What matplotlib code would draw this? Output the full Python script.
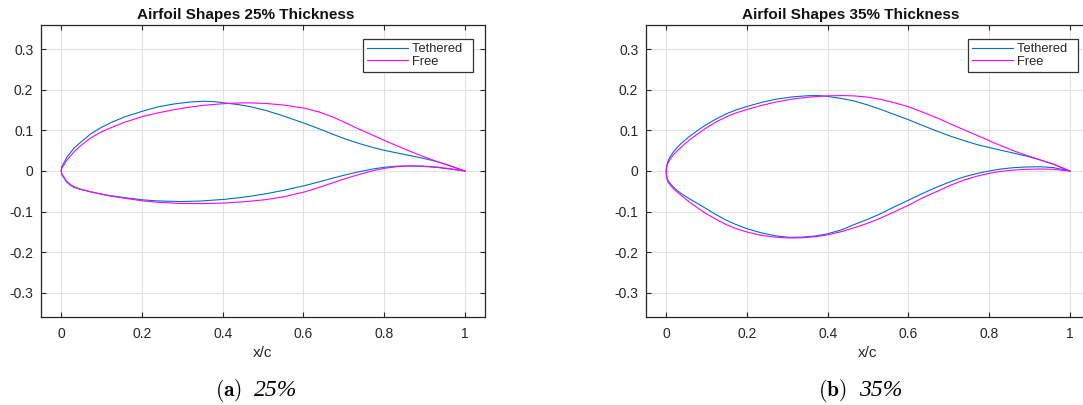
import matplotlib
matplotlib.use("Agg")
import matplotlib.pyplot as plt

plt.rcParams['font.family'] = ['Liberation Sans', 'DejaVu Sans']
plt.rcParams['mathtext.fontset'] = 'cm'

# ---- 25% thickness airfoil (x/c, y/c) ----
x25_teth_up = [0, 0.0017, 0.0073, 0.0139, 0.0238, 0.032, 0.0485, 0.0733, 0.098, 0.1228, 0.1558,
               0.2028, 0.2382, 0.2795, 0.3207, 0.3537, 0.3785, 0.4032, 0.4445, 0.467, 0.508,
               0.5496, 0.6033, 0.6404, 0.6734, 0.7064, 0.7394, 0.7724, 0.8013, 0.8302, 0.8632,
               0.8962, 0.9292, 0.9622, 1.0]
y25_teth_up = [0, 0.0107, 0.0214, 0.0338, 0.0462, 0.0569, 0.0710, 0.0917, 0.1066, 0.1190, 0.1330,
               0.1479, 0.1578, 0.1653, 0.1702, 0.1719, 0.1711, 0.1683, 0.1628, 0.1590, 0.1490,
               0.1360, 0.1175, 0.1035, 0.0905, 0.0780, 0.0675, 0.0578, 0.0508, 0.0449, 0.0382,
               0.0314, 0.0238, 0.0135, 0.0]
x25_teth_lo = [0, 0.0017, 0.0073, 0.0139, 0.0238, 0.032, 0.0485, 0.0733, 0.1145, 0.1558, 0.2028,
               0.2382, 0.2960, 0.3455, 0.4032, 0.4445, 0.467, 0.508, 0.5496, 0.6033, 0.6404,
               0.6734, 0.7064, 0.7394, 0.7724, 0.8013, 0.8302, 0.8632, 0.8962, 0.9292, 0.9622, 1.0]
y25_teth_lo = [0, -0.0092, -0.0175, -0.0274, -0.0357, -0.0406, -0.0456, -0.0514, -0.0597, -0.0654,
               -0.0712, -0.0737, -0.0754, -0.0740, -0.0700, -0.0655, -0.0625, -0.0560, -0.0480,
               -0.0360, -0.0265, -0.0175, -0.0090, -0.0015, 0.0050, 0.0092, 0.0118, 0.0124,
               0.0114, 0.0090, 0.0050, 0.0]

x25_free_up = [0, 0.0017, 0.0073, 0.0139, 0.0238, 0.032, 0.0485, 0.0733, 0.098, 0.1228, 0.1558,
               0.2028, 0.2382, 0.2795, 0.3207, 0.3537, 0.4032, 0.4445, 0.467, 0.508, 0.5496,
               0.6033, 0.6404, 0.6734, 0.7064, 0.7394, 0.7724, 0.8013, 0.8302, 0.8632, 0.8962,
               0.9292, 0.9622, 1.0]
y25_free_up = [0, 0.0074, 0.0156, 0.0271, 0.0379, 0.0478, 0.0627, 0.0817, 0.0958, 0.1066, 0.1198,
               0.1347, 0.1430, 0.1512, 0.1578, 0.1620, 0.1661, 0.1678, 0.1680, 0.1665, 0.1628,
               0.1548, 0.1450, 0.1330, 0.1180, 0.1025, 0.0880, 0.0752, 0.0628, 0.0490, 0.0360,
               0.0240, 0.0130, 0.0]
x25_free_lo = [0, 0.0017, 0.0073, 0.0139, 0.0238, 0.032, 0.0485, 0.0733, 0.1145, 0.1558, 0.2028,
               0.2382, 0.2960, 0.3455, 0.4032, 0.4445, 0.467, 0.508, 0.5496, 0.6033, 0.6404,
               0.6734, 0.7064, 0.7394, 0.7724, 0.8013, 0.8302, 0.8632, 0.8962, 0.9292, 0.9622, 1.0]
y25_free_lo = [0, -0.0075, -0.0158, -0.0257, -0.0340, -0.0390, -0.0448, -0.0514, -0.0605, -0.0671,
               -0.0737, -0.0770, -0.0800, -0.0805, -0.0790, -0.0765, -0.0745, -0.0705, -0.0640,
               -0.0515, -0.0400, -0.0290, -0.0180, -0.0080, 0.0005, 0.0066, 0.0107, 0.0124,
               0.0122, 0.0099, 0.0058, 0.0]

# ---- 35% thickness airfoil (x/c, y/c) ----
x35_teth_up = [0, 0.0008, 0.0041, 0.0099, 0.0165, 0.0247, 0.0370, 0.0576, 0.0782, 0.0988, 0.1235,
               0.1481, 0.1728, 0.1992, 0.2346, 0.2716, 0.3128, 0.3539, 0.3786, 0.3992, 0.4362,
               0.4659, 0.4988, 0.5317, 0.5647, 0.6001, 0.6346, 0.6717, 0.7046, 0.7375, 0.7704,
               0.8001, 0.8281, 0.8611, 0.8940, 0.9269, 0.9599, 1.0]
y35_teth_up = [0, 0.0108, 0.0232, 0.0350, 0.0450, 0.0550, 0.0680, 0.0852, 0.1001, 0.1141, 0.1282,
               0.1406, 0.1505, 0.1588, 0.1687, 0.1770, 0.1828, 0.1858, 0.1860, 0.1840, 0.1785,
               0.1725, 0.1630, 0.1518, 0.1395, 0.1266, 0.1125, 0.0980, 0.0858, 0.0750, 0.0650,
               0.0580, 0.0515, 0.0440, 0.0364, 0.0272, 0.0165, 0.0]
x35_teth_lo = [0, 0.0008, 0.0041, 0.0099, 0.0165, 0.0247, 0.0370, 0.0576, 0.0782, 0.0988, 0.1235,
               0.1481, 0.1728, 0.1992, 0.2346, 0.2716, 0.3045, 0.3374, 0.3704, 0.3992, 0.4362,
               0.4659, 0.4988, 0.5317, 0.5647, 0.6001, 0.6346, 0.6717, 0.7046, 0.7375, 0.7704,
               0.8001, 0.8281, 0.8611, 0.8940, 0.9269, 0.9599, 1.0]
y35_teth_lo = [0, -0.0116, -0.0223, -0.0305, -0.0380, -0.0460, -0.0555, -0.0685, -0.0805, -0.0926,
               -0.1075, -0.1210, -0.1320, -0.1420, -0.1522, -0.1600, -0.1635, -0.1630, -0.1600,
               -0.1550, -0.1445, -0.1320, -0.1195, -0.1050, -0.0888, -0.0720, -0.0556, -0.0392,
               -0.0262, -0.0145, -0.0060, 0.0000, 0.0048, 0.0083, 0.0100, 0.0105, 0.0083, 0.0]

x35_free_up = [0, 0.0008, 0.0041, 0.0099, 0.0165, 0.0247, 0.0370, 0.0576, 0.0782, 0.0988, 0.1235,
               0.1481, 0.1728, 0.1992, 0.2346, 0.2716, 0.3128, 0.3539, 0.3992, 0.4362, 0.4659,
               0.4988, 0.5317, 0.5647, 0.6001, 0.6346, 0.6717, 0.7046, 0.7375, 0.7704, 0.8001,
               0.8281, 0.8611, 0.8940, 0.9269, 0.9599, 1.0]
y35_free_up = [0, 0.0083, 0.0190, 0.0290, 0.0385, 0.0470, 0.0590, 0.0765, 0.0918, 0.1059, 0.1208,
               0.1332, 0.1431, 0.1514, 0.1613, 0.1700, 0.1775, 0.1822, 0.1853, 0.1860, 0.1852,
               0.1822, 0.1765, 0.1685, 0.1585, 0.1455, 0.1307, 0.1160, 0.1018, 0.0877, 0.0747,
               0.0630, 0.0497, 0.0381, 0.0273, 0.0166, 0.0]
x35_free_lo = [0, 0.0008, 0.0041, 0.0099, 0.0165, 0.0247, 0.0370, 0.0576, 0.0782, 0.0988, 0.1235,
               0.1481, 0.1728, 0.1992, 0.2346, 0.2716, 0.3045, 0.3374, 0.3704, 0.3992, 0.4362,
               0.4659, 0.4988, 0.5317, 0.5647, 0.6001, 0.6346, 0.6717, 0.7046, 0.7375, 0.7704,
               0.8001, 0.8281, 0.8611, 0.8940, 0.9269, 0.9599, 1.0]
y35_free_lo = [0, -0.0141, -0.0265, -0.0345, -0.0420, -0.0500, -0.0600, -0.0765, -0.0912, -0.1050,
               -0.1191, -0.1318, -0.1420, -0.1502, -0.1585, -0.1632, -0.1652, -0.1646, -0.1620,
               -0.1575, -0.1490, -0.1400, -0.1290, -0.1160, -0.1010, -0.0845, -0.0665, -0.0500,
               -0.0350, -0.0225, -0.0126, -0.0058, -0.0010, 0.0024, 0.0041, 0.0050, 0.0041, 0.0]

titles = ["Airfoil Shapes 25% Thickness", "Airfoil Shapes 35% Thickness"]
panel_tags = ["(a)", "(b)"]
panel_names = ["25%", "35%"]
series_names = ["Tethered", "Free"]
ticks_x = [0, 0.2, 0.4, 0.6, 0.8, 1]
ticks_y = [-0.3, -0.2, -0.1, 0, 0.1, 0.2, 0.3]

BLUE = "#0072BD"
MAGENTA = "#FF00FF"
AXCOL = "#262626"

W, H = 1083, 405
fig = plt.figure(figsize=(W / 100, H / 100), dpi=100)


def px_axes(left, top, width, height):
    return fig.add_axes([left / W, 1 - (top + height) / H, width / W, height / H])


def closed(xu, yu, xl, yl):
    # trailing edge -> leading edge along the top, then back along the bottom
    xs = list(xu[::-1]) + list(xl[1:])
    ys = list(yu[::-1]) + list(yl[1:])
    return xs, ys


shapes = [
    [(x25_teth_up, y25_teth_up, x25_teth_lo, y25_teth_lo),
     (x25_free_up, y25_free_up, x25_free_lo, y25_free_lo)],
    [(x35_teth_up, y35_teth_up, x35_teth_lo, y35_teth_lo),
     (x35_free_up, y35_free_up, x35_free_lo, y35_free_lo)],
]

# axes boxes in pixels (left, top, width, height); the second one runs past the page edge
boxes = [(41, 25, 444, 292), (646, 25, 444, 292)]

for i, (box, pair) in enumerate(zip(boxes, shapes)):
    ax = px_axes(*box)
    for (xu, yu, xl, yl), col, name in zip(pair, [BLUE, MAGENTA], series_names):
        xs, ys = closed(xu, yu, xl, yl)
        ax.plot(xs, ys, color=col, lw=0.8, label=name + "  ", solid_joinstyle="round")

    ax.set_xlim(-0.05, 1.05)
    ax.set_ylim(-0.36, 0.36)
    ax.set_xticks(ticks_x)
    ax.set_xticklabels(["0", "0.2", "0.4", "0.6", "0.8", "1"])
    ax.set_yticks(ticks_y)
    ax.set_yticklabels(["-0.3", "-0.2", "-0.1", "0", "0.1", "0.2", "0.3"])
    ax.grid(True, color="#e2e2e2", lw=0.8)
    ax.set_axisbelow(True)
    ax.tick_params(direction="in", length=3.6, width=0.8, colors=AXCOL,
                   labelsize=10, top=True, right=True)
    ax.tick_params(axis="x", pad=7.5)
    ax.tick_params(axis="y", pad=5.5)
    for sp in ax.spines.values():
        sp.set_color(AXCOL)
        sp.set_linewidth(0.9)

    ax.set_title(titles[i], fontsize=11, fontweight="bold", color="#111111", pad=4.5,
                 x=0.4617)
    ax.set_xlabel("x/c", fontsize=11, color=AXCOL, labelpad=3)

    leg = ax.legend(loc="upper right", bbox_to_anchor=(0.973, 0.952), borderaxespad=0,
                    fontsize=9.3, frameon=True, fancybox=False, framealpha=1,
                    edgecolor="#333333", handlelength=3.2, handletextpad=0.27,
                    borderpad=0.32, labelspacing=0.05)
    leg.get_frame().set_linewidth(0.9)
    for t in leg.get_texts():
        t.set_color(AXCOL)

# sub-figure captions: bold tag plus italic name
tag_right = [242, 847]
name_left = [254, 859]
for i in range(2):
    fig.text(tag_right[i] / W, 1 - 396 / H, r"$\mathbf{" + panel_tags[i] + "}$",
             fontsize=15.5, ha="right", va="baseline")
    fig.text(name_left[i] / W, 1 - 396 / H, panel_names[i], fontsize=17,
             family="Liberation Serif", style="italic", ha="left", va="baseline")

fig.savefig("out.png", dpi=100, facecolor="white")
